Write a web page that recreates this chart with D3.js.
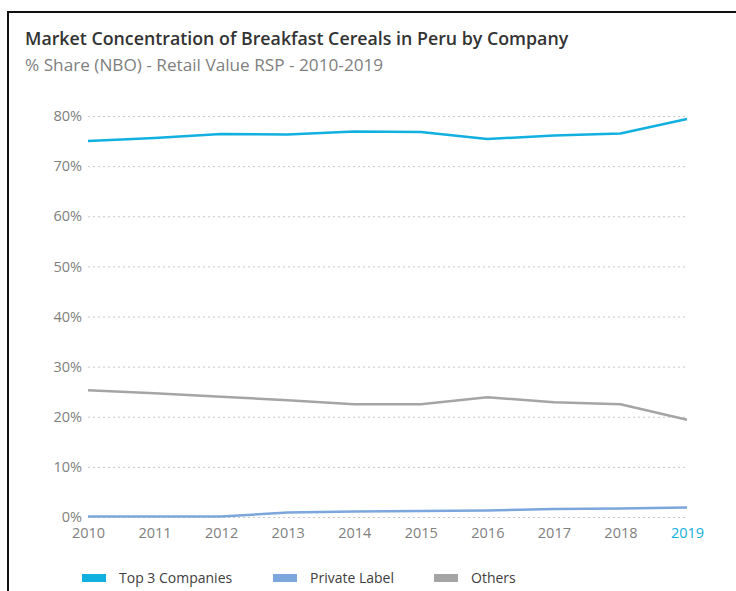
<!DOCTYPE html>
<html>
<head>
<meta charset="utf-8">
<script src="https://cdn.jsdelivr.net/npm/d3@7"></script>
<style>
  body { margin: 0; background: #fff; }
  svg { display: block; font-family: "Open Sans", sans-serif; }
</style>
</head>
<body>
<div id="chart"></div>
<script>
const years = ["2010", "2011", "2012", "2013", "2014", "2015", "2016", "2017", "2018", "2019"];
const top3 = [75.0, 75.6, 76.4, 76.3, 76.9, 76.8, 75.4, 76.1, 76.5, 79.4];
const privateLabel = [0.1, 0.1, 0.1, 0.9, 1.1, 1.2, 1.3, 1.6, 1.7, 1.9];
const others = [25.3, 24.7, 24.0, 23.3, 22.5, 22.5, 23.9, 22.9, 22.5, 19.4];
const yTicks = [0, 10, 20, 30, 40, 50, 60, 70, 80];

const series = [
  { name: "Top 3 Companies", values: top3, color: "#12b0df" },
  { name: "Private Label", values: privateLabel, color: "#7ba7dc" },
  { name: "Others", values: others, color: "#a5a5a5" }
];

const width = 736, height = 591;
const svg = d3.select("#chart").append("svg").attr("width", width).attr("height", height);

// frame
svg.append("path")
  .attr("d", `M8,${height + 5} L8,12 L${width + 5},12`)
  .attr("fill", "none")
  .attr("stroke", "#111")
  .attr("stroke-width", 2);

svg.append("text")
  .attr("x", 25).attr("y", 45)
  .attr("font-size", 17.8).attr("font-weight", 600).attr("fill", "#333")
  .text("Market Concentration of Breakfast Cereals in Peru by Company");

svg.append("text")
  .attr("x", 25).attr("y", 71)
  .attr("font-size", 17.2).attr("fill", "#7f7f7f")
  .text("% Share (NBO) - Retail Value RSP - 2010-2019");

const x = d3.scalePoint().domain(years).range([88, 687]);
const y = d3.scaleLinear().domain([0, 80]).range([517, 116]);

// gridlines + y labels
const yAxis = svg.append("g")
  .attr("transform", "translate(88,0)")
  .call(d3.axisLeft(y).tickValues(yTicks).tickSize(-600).tickFormat(d => d + "%").tickPadding(6));
yAxis.select(".domain").remove();
yAxis.selectAll(".tick line")
  .attr("stroke", "#c8c8c8")
  .attr("stroke-dasharray", "2,3");
yAxis.selectAll(".tick text")
  .attr("font-size", 14.5).attr("fill", "#7f7f7f")
  .attr("font-family", "Open Sans, sans-serif");

// x labels
const xAxis = svg.append("g")
  .attr("transform", "translate(0,517)")
  .call(d3.axisBottom(x).tickSize(0).tickPadding(11));
xAxis.select(".domain").remove();
xAxis.selectAll(".tick text")
  .attr("font-size", 14.5)
  .attr("font-family", "Open Sans, sans-serif")
  .attr("fill", d => d === "2019" ? "#12b0df" : "#7f7f7f");

const line = d3.line().x((d, i) => x(years[i])).y(d => y(d));

svg.selectAll(".series")
  .data(series.slice().reverse())
  .join("path")
  .attr("class", "series")
  .attr("d", d => line(d.values))
  .attr("fill", "none")
  .attr("stroke", d => d.color)
  .attr("stroke-width", 2.5)
  .attr("stroke-linejoin", "round");

// legend
const legendX = [82, 273, 434];
const legend = svg.selectAll(".legend")
  .data(series)
  .join("g")
  .attr("class", "legend")
  .attr("transform", (d, i) => `translate(${legendX[i]},578)`);
legend.append("rect")
  .attr("x", 0).attr("y", -4)
  .attr("width", 24).attr("height", 8)
  .attr("fill", d => d.color);
legend.append("text")
  .attr("x", 37).attr("y", 5)
  .attr("font-size", 14).attr("fill", "#404040")
  .text(d => d.name);
</script>
</body>
</html>
